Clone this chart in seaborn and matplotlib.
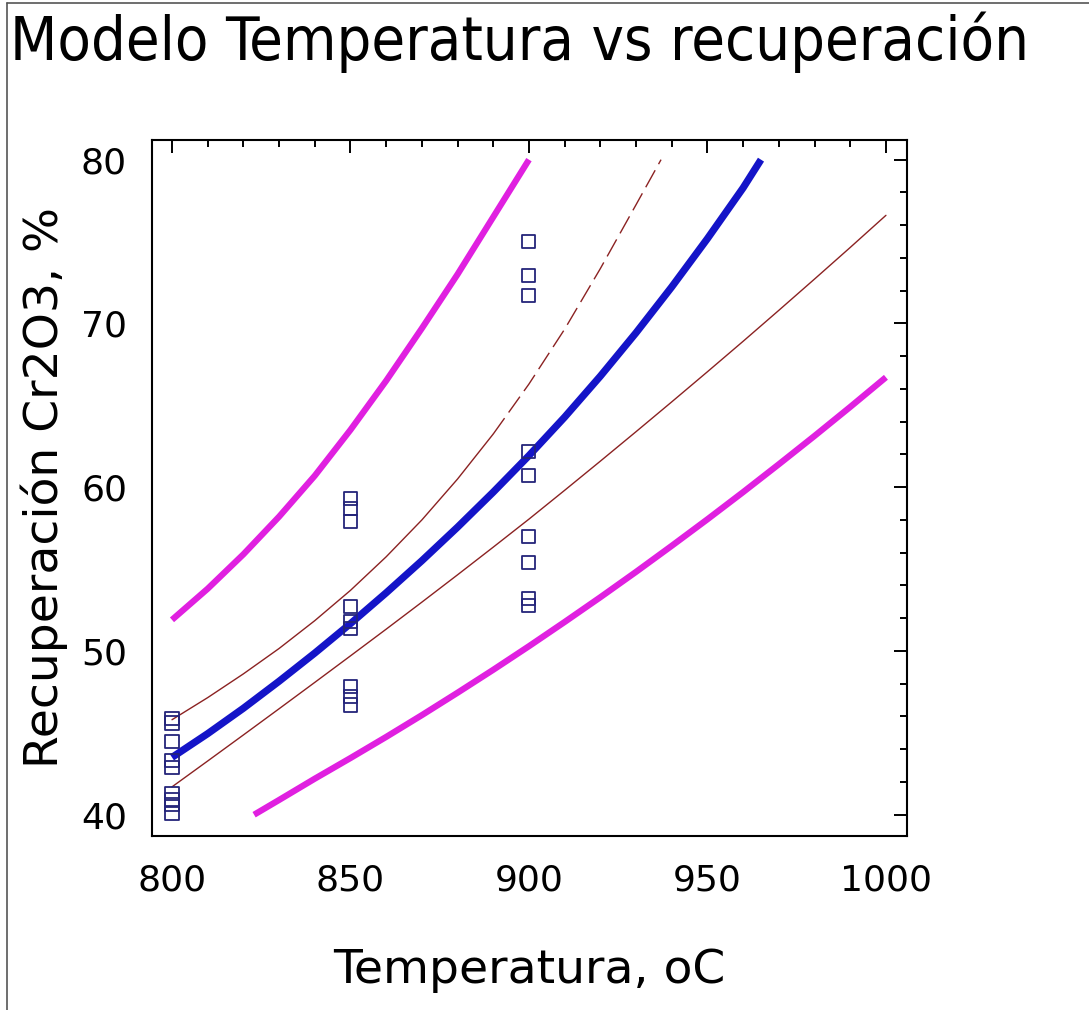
import numpy as np
import pandas as pd
import matplotlib
matplotlib.use("Agg")
import matplotlib.pyplot as plt
from matplotlib.lines import Line2D
from matplotlib.ticker import MultipleLocator
import seaborn as sns

# ---------------- data ----------------
temp_obs = [800]*9 + [850]*9 + [900]*9
recup_obs = [45.9, 45.6, 44.5, 43.3, 42.9, 41.3, 40.9, 40.6, 40.1,
             59.3, 58.7, 57.9, 52.7, 51.8, 51.4, 47.8, 47.2, 46.7,
             75.0, 72.9, 71.7, 62.2, 60.7, 57.0, 55.4, 53.2, 52.8]

fit_t = [800, 810, 820, 830, 840, 850, 860, 870, 880, 890, 900,
         910, 920, 930, 940, 950, 960, 965]
fit_y = [43.5, 44.95, 46.5, 48.15, 49.87, 51.67, 53.55, 55.51, 57.56, 59.7,
         61.93, 64.28, 66.78, 69.43, 72.23, 75.18, 78.28, 80.0]

conf_up_t = [800, 810, 820, 830, 840, 850, 860, 870, 880, 890,
             900, 910, 920, 930, 937]
conf_up_y = [45.8, 47.15, 48.6, 50.15, 51.85, 53.7, 55.75, 58.0, 60.5, 63.25,
             66.3, 69.65, 73.35, 77.25, 80.0]

conf_lo_t = [800, 810, 820, 830, 840, 850, 860, 870, 880, 890, 900,
             910, 920, 930, 940, 950, 960, 970, 980, 990, 1000]
conf_lo_y = [41.7, 43.28, 44.87, 46.47, 48.08, 49.7, 51.33, 52.98, 54.65,
             56.34, 58.05, 59.81, 61.59, 63.39, 65.21, 67.05, 68.91, 70.8,
             72.71, 74.64, 76.6]

pred_up_t = [800, 810, 820, 830, 840, 850, 860, 870, 880, 890, 900]
pred_up_y = [51.9, 53.8, 55.9, 58.2, 60.7, 63.5, 66.5, 69.7, 73.0, 76.5, 80.0]

pred_lo_t = [823, 830, 840, 850, 860, 870, 880, 890, 900, 910, 920,
             930, 940, 950, 960, 970, 980, 990, 1000]
pred_lo_y = [40.0, 40.9, 42.2, 43.46, 44.75, 46.08, 47.45, 48.85, 50.29,
             51.77, 53.28, 54.83, 56.42, 58.04, 59.7, 61.4, 63.13, 64.9, 66.71]

title = "Modelo Temperatura vs recuperación"
xlabel = "Temperatura, oC"
ylabel = "Recuperación Cr2O3, %"
xticks = [800, 850, 900, 950, 1000]
yticks = [40, 50, 60, 70, 80]

# ---------------- style ----------------
sns.set_theme(style="white")
plt.rcParams['font.family'] = ['DejaVu Sans']
plt.rcParams['text.color'] = 'black'
plt.rcParams['axes.labelcolor'] = 'black'
plt.rcParams['xtick.color'] = 'black'
plt.rcParams['ytick.color'] = 'black'

W, H = 1089, 1010
fig = plt.figure(figsize=(W/100, H/100), dpi=100)
ax = fig.add_axes([152/W, 1-836/H, (907-152)/W, (836-140)/H])

MAGENTA = "#e020e0"
BLUE = "#1414c8"
BROWN = "#8b2222"

obs = pd.DataFrame({"T": temp_obs, "R": recup_obs})
fit = pd.DataFrame({"T": fit_t, "R": fit_y})
cup = pd.DataFrame({"T": conf_up_t, "R": conf_up_y})
clo = pd.DataFrame({"T": conf_lo_t, "R": conf_lo_y})
pup = pd.DataFrame({"T": pred_up_t, "R": pred_up_y})
plo = pd.DataFrame({"T": pred_lo_t, "R": pred_lo_y})

sns.lineplot(data=pup, x="T", y="R", ax=ax, color=MAGENTA, lw=4.5,
             solid_capstyle="butt", solid_joinstyle="round", sort=True)
sns.lineplot(data=plo, x="T", y="R", ax=ax, color=MAGENTA, lw=4.5,
             solid_capstyle="butt", solid_joinstyle="round", sort=True)
sns.lineplot(data=clo, x="T", y="R", ax=ax, color=BROWN, lw=1.0, sort=True)
sns.lineplot(data=cup[cup["T"] <= 890], x="T", y="R", ax=ax, color=BROWN,
             lw=1.0, sort=True)
sns.lineplot(data=cup[cup["T"] >= 890], x="T", y="R", ax=ax, color=BROWN,
             lw=1.0, sort=True, linestyle=(0, (14, 5)))
sns.lineplot(data=fit, x="T", y="R", ax=ax, color=BLUE, lw=5.2,
             solid_capstyle="butt", solid_joinstyle="round", sort=True)
sns.scatterplot(data=obs, x="T", y="R", ax=ax, marker="s", s=88,
                facecolor="none", edgecolor="#24247a", linewidth=1.3,
                zorder=5)

ax.set_xlim(794.4, 1005.9)
ax.set_ylim(38.7, 81.2)
ax.set_xticks(xticks)
ax.set_yticks(yticks)
ax.xaxis.set_minor_locator(MultipleLocator(10))
ax.yaxis.set_minor_locator(MultipleLocator(2))
ax.tick_params(which="both", direction="in", top=True, right=True,
               color="black", width=1.4)
ax.tick_params(which="major", length=9.5, labelsize=26, pad=18)
ax.tick_params(which="minor", length=5)
ax.tick_params(axis="x", which="major", pad=20)
for s in ax.spines.values():
    s.set_visible(True)
    s.set_color("black")
    s.set_linewidth(1.5)

ax.set_xlabel(xlabel, fontsize=34, labelpad=36)
ax.set_ylabel(ylabel, fontsize=34, labelpad=9)
fig.text(10/W, 1-42/H, title, fontsize=44, ha="left", va="center",
         fontstretch="condensed")

# frame lines at left and top of the figure
fig.add_artist(Line2D([7/W, 7/W], [0, 1-3/H], color="#555555", lw=1.2))
fig.add_artist(Line2D([7/W, 1], [1-3/H, 1-3/H], color="#555555", lw=1.2))

fig.savefig("out.png", dpi=100, facecolor="white")
